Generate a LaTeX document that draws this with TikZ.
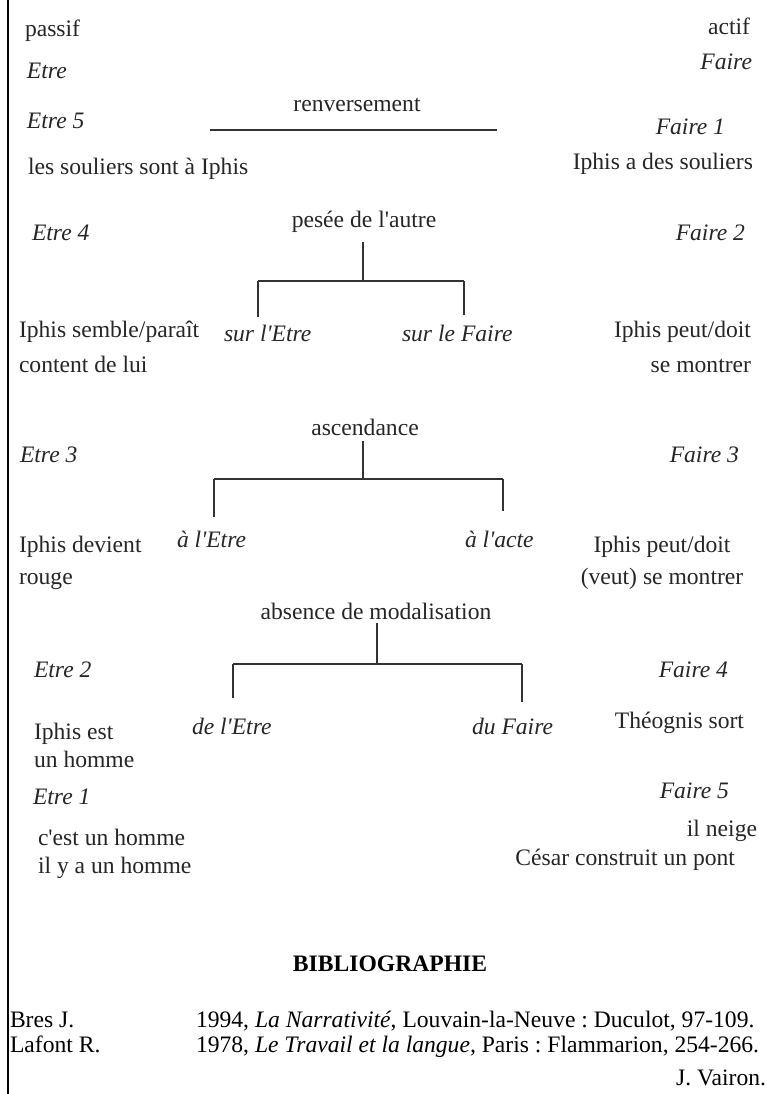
\documentclass[tikz,border=0pt]{standalone}
\usepackage{fontspec}
\setmainfont{Liberation Serif}[Ligatures=TeXOff]
\frenchspacing
\begin{document}
\begin{tikzpicture}[x=1pt,y=-1pt,
  txt/.style={inner sep=0pt, outer sep=0pt, text=black!85, font=\fontsize{23.6}{28}\selectfont},
  it/.style={txt, font=\fontsize{23.6}{28}\selectfont\itshape},
  bib/.style={inner sep=0pt, outer sep=0pt, text=black, font=\fontsize{23.6}{28}\selectfont},
  ln/.style={draw=black!80, line width=1.3pt}]
\useasboundingbox (0,0) rectangle (772,1094);
\fill[white] (0,0) rectangle (772,1094);
% left rule
\coordinate (rt) at (8,0);
\coordinate (rb) at (8,1094);
\draw[black, line width=2pt] (rt) -- (rb);

% left column
\node[txt, anchor=base west] (passif) at (25,37) {passif};
\node[it, anchor=base west] (etre) at (27,79) {Etre};
\node[it, anchor=base west] (e5) at (27,129) {Etre 5};
\node[txt, anchor=base west] (e5t) at (28,175) {les souliers sont à Iphis};
\node[it, anchor=base west] (e4) at (32,240) {Etre 4};
\node[txt, anchor=base west] (e4a) at (19,337) {Iphis semble/paraît};
\node[txt, anchor=base west] (e4b) at (19,372) {content de lui};
\node[it, anchor=base west] (e3) at (20,462) {Etre 3};
\node[txt, anchor=base west] (e3a) at (19,552) {Iphis devient};
\node[txt, anchor=base west] (e3b) at (19,584) {rouge};
\node[it, anchor=base west] (e2) at (34,677) {Etre 2};
\node[txt, anchor=base west] (e2a) at (34,739) {Iphis est};
\node[txt, anchor=base west] (e2b) at (34,767) {un homme};
\node[it, anchor=base west] (e1) at (33,804) {Etre 1};
\node[txt, anchor=base west] (e1a) at (38,845) {c'est un homme};
\node[txt, anchor=base west] (e1b) at (38,873) {il y a un homme};

% right column
\node[txt, anchor=base east] (actif) at (750,35) {actif};
\node[it, anchor=base east] (faire) at (752,70) {Faire};
\node[it, anchor=base east] (f1) at (725,135) {Faire 1};
\node[txt, anchor=base east] (f1t) at (753,170) {Iphis a des souliers};
\node[it, anchor=base east] (f2) at (745,240) {Faire 2};
\node[txt, anchor=base east] (f2a) at (751,337) {Iphis peut/doit};
\node[txt, anchor=base east] (f2b) at (751,372) {se montrer};
\node[it, anchor=base east] (f3) at (739,462) {Faire 3};
\node[txt, anchor=base] (f3a) at (662,552) {Iphis peut/doit};
\node[txt, anchor=base] (f3b) at (662,584) {(veut) se montrer};
\node[it, anchor=base east] (f4) at (728,677) {Faire 4};
\node[txt, anchor=base east] (f4a) at (744,728) {Théognis sort};
\node[it, anchor=base east] (f5) at (729,798) {Faire 5};
\node[txt, anchor=base east] (f5a) at (757,836) {il neige};
\node[txt, anchor=base east] (f5b) at (735,865) {César construit un pont};

% renversement
\node[txt, anchor=base] (ren) at (357,112) {renversement};
\coordinate (rl) at (210,130);
\coordinate (rr) at (497,130);
\draw[ln] (rl) -- (rr);

% pesee de l'autre
\node[txt, anchor=base] (pes) at (364,227) {pesée de l'autre};
\coordinate (p0) at (363,242);
\coordinate (pj) at (363,281);
\coordinate (pl) at (258,281);
\coordinate (pr) at (464,281);
\coordinate (pld) at (258,317);
\coordinate (prd) at (464,315);
\draw[ln] (p0) -- (pj);
\draw[ln] (pl) -- (pr);
\draw[ln] (pl) -- (pld);
\draw[ln] (pr) -- (prd);
\node[it, anchor=base west] (pe) at (224,341) {sur l'Etre};
\node[it, anchor=base west] (pf) at (402,341) {sur le Faire};

% ascendance
\node[txt, anchor=base] (asc) at (365,435) {ascendance};
\coordinate (a0) at (363,441);
\coordinate (aj) at (363,479);
\coordinate (al) at (214,479);
\coordinate (ar) at (503,479);
\coordinate (ald) at (214,517);
\coordinate (ard) at (503,511);
\draw[ln] (a0) -- (aj);
\draw[ln] (al) -- (ar);
\draw[ln] (al) -- (ald);
\draw[ln] (ar) -- (ard);
\node[it, anchor=base west] (ae) at (177,547) {à l'Etre};
\node[it, anchor=base west] (aa) at (465,547) {à l'acte};

% absence de modalisation
\node[txt, anchor=base] (abs) at (376,619) {absence de modalisation};
\coordinate (b0) at (377,623);
\coordinate (bj) at (377,664);
\coordinate (bl) at (233,664);
\coordinate (br) at (522,664);
\coordinate (bld) at (233,698);
\coordinate (brd) at (522,702);
\draw[ln] (b0) -- (bj);
\draw[ln] (bl) -- (br);
\draw[ln] (bl) -- (bld);
\draw[ln] (br) -- (brd);
\node[it, anchor=base west] (be) at (192,734) {de l'Etre};
\node[it, anchor=base west] (bf) at (472,734) {du Faire};

% bibliographie
\node[bib, anchor=base, font=\fontsize{23.6}{28}\selectfont\bfseries] (bibt) at (390,971) {BIBLIOGRAPHIE};
\node[bib, anchor=base west] (bres) at (10,1027) {Bres J.};
\node[bib, anchor=base west] (bresr) at (196,1027) {1994, \textit{La Narrativité}, Louvain-la-Neuve : Duculot, 97-109.};
\node[bib, anchor=base west] (laf) at (10,1052) {Lafont R.};
\node[bib, anchor=base west] (lafr) at (196,1052) {1978, \textit{Le Travail et la langue,} Paris : Flammarion, 254-266.};
\node[bib, anchor=base east] (vai) at (766,1085) {J. Vairon.};
\end{tikzpicture}
\end{document}
